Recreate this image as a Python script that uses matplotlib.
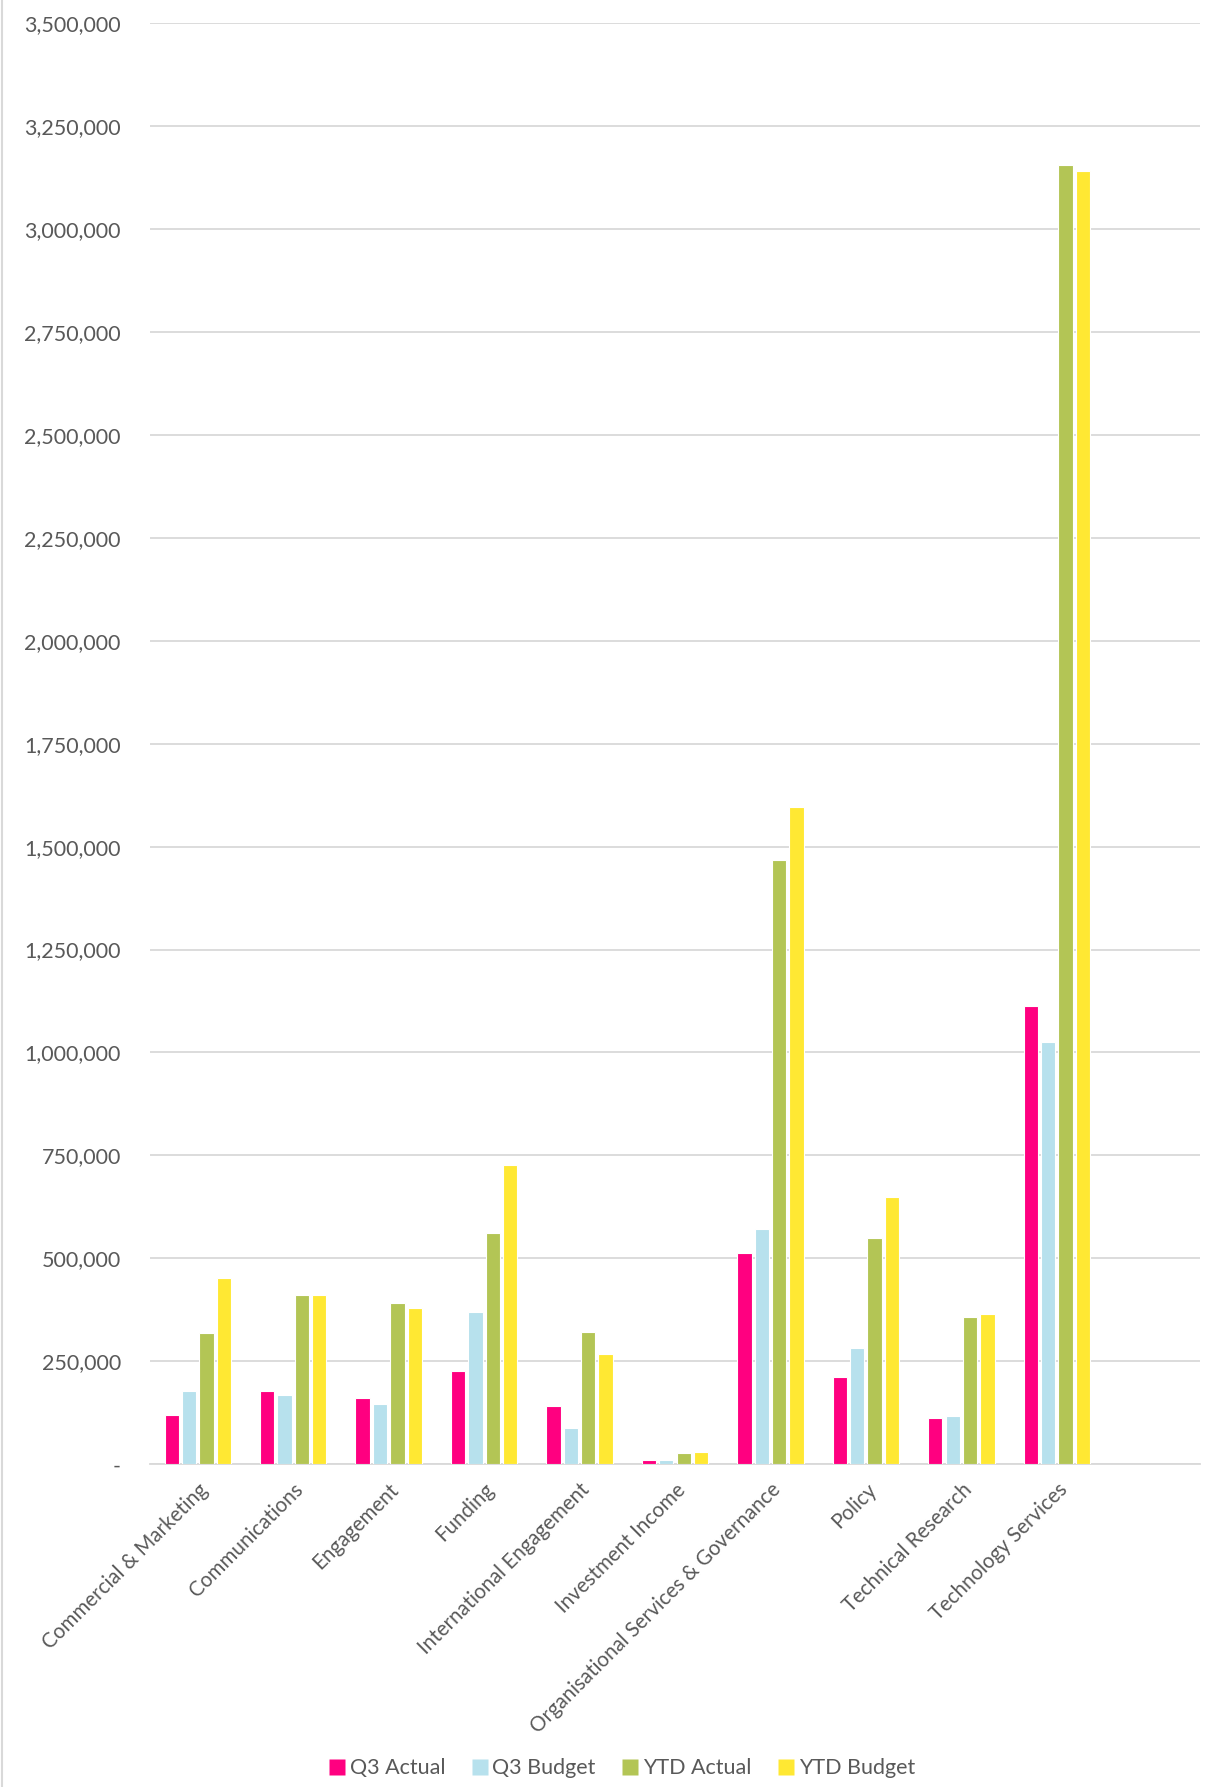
import matplotlib.pyplot as plt
import numpy as np
from matplotlib.ticker import FuncFormatter
from matplotlib.lines import Line2D

categories = ['Commercial & Marketing', 'Communications', 'Engagement', 'Funding',
              'International Engagement', 'Investment Income',
              'Organisational Services & Governance', 'Policy',
              'Technical Research', 'Technology Services']
series_names = ['Q3 Actual', 'Q3 Budget', 'YTD Actual', 'YTD Budget']
q3_actual = [120000, 178000, 161600, 225700, 141500, 9700, 512800, 211900, 112400, 1113000]
q3_budget = [178600, 168000, 147000, 369600, 88800, 11000, 571000, 281500, 117000, 1025800]
ytd_actual = [318700, 411000, 391500, 561400, 321000, 27400, 1467000, 549000, 356800, 3156000]
ytd_budget = [452900, 411000, 379000, 727000, 267700, 30600, 1596600, 648000, 365600, 3141500]
colors = ['#FF0080', '#B7E1ED', '#B3C555', '#FFE833']

plt.rcParams['font.family'] = ['Lato', 'DejaVu Sans']
grey = '#595959'

fig = plt.figure(figsize=(12.07, 17.87), dpi=100)
ax = fig.add_axes([0.1243, 0.1806, 0.8699, 0.8065])

x = np.arange(len(categories))
w = 0.15
step = 0.182
all_series = [q3_actual, q3_budget, ytd_actual, ytd_budget]
for i in range(len(all_series)):
    ax.bar(x + (i - 1.5) * step, all_series[i], width=w, color=colors[i],
           edgecolor='white', linewidth=0.8, zorder=3, label=series_names[i])

ax.set_xlim(-0.5, len(categories) + 0.5)
ax.set_ylim(0, 3500000)
ax.set_yticks(np.arange(0, 3500001, 250000))
ax.yaxis.set_major_formatter(FuncFormatter(lambda v, p: '-' if v == 0 else '{:,.0f}'.format(v)))
ax.grid(axis='y', color='#D9D9D9', linewidth=1.3, zorder=0)
for s in ['top', 'right', 'left']:
    ax.spines[s].set_visible(False)
ax.spines['bottom'].set_color('#D9D9D9')
ax.spines['bottom'].set_linewidth(1.3)
ax.tick_params(axis='y', length=0, pad=21, labelsize=15.5, labelcolor=grey)
ax.tick_params(axis='x', length=0, pad=11, labelsize=14.8, labelcolor=grey)
ax.set_xticks(x)
ax.set_xticklabels(categories, rotation=45, ha='right', rotation_mode='anchor')

handles = [Line2D([], [], marker='s', linestyle='none', markersize=11,
                  markerfacecolor=c, markeredgecolor='none') for c in colors]
fig.legend(handles, series_names, loc='lower center', bbox_to_anchor=(0.515, -0.006),
           ncol=4, frameon=False, fontsize=15.5, labelcolor=grey,
           handletextpad=0.2, columnspacing=1.2, handlelength=0.8)

fig.add_artist(Line2D([0.002, 0.002], [0, 1], color='#D9D9D9', linewidth=1.5,
                      transform=fig.transFigure))

fig.savefig('out.png', dpi=100, facecolor='white')
